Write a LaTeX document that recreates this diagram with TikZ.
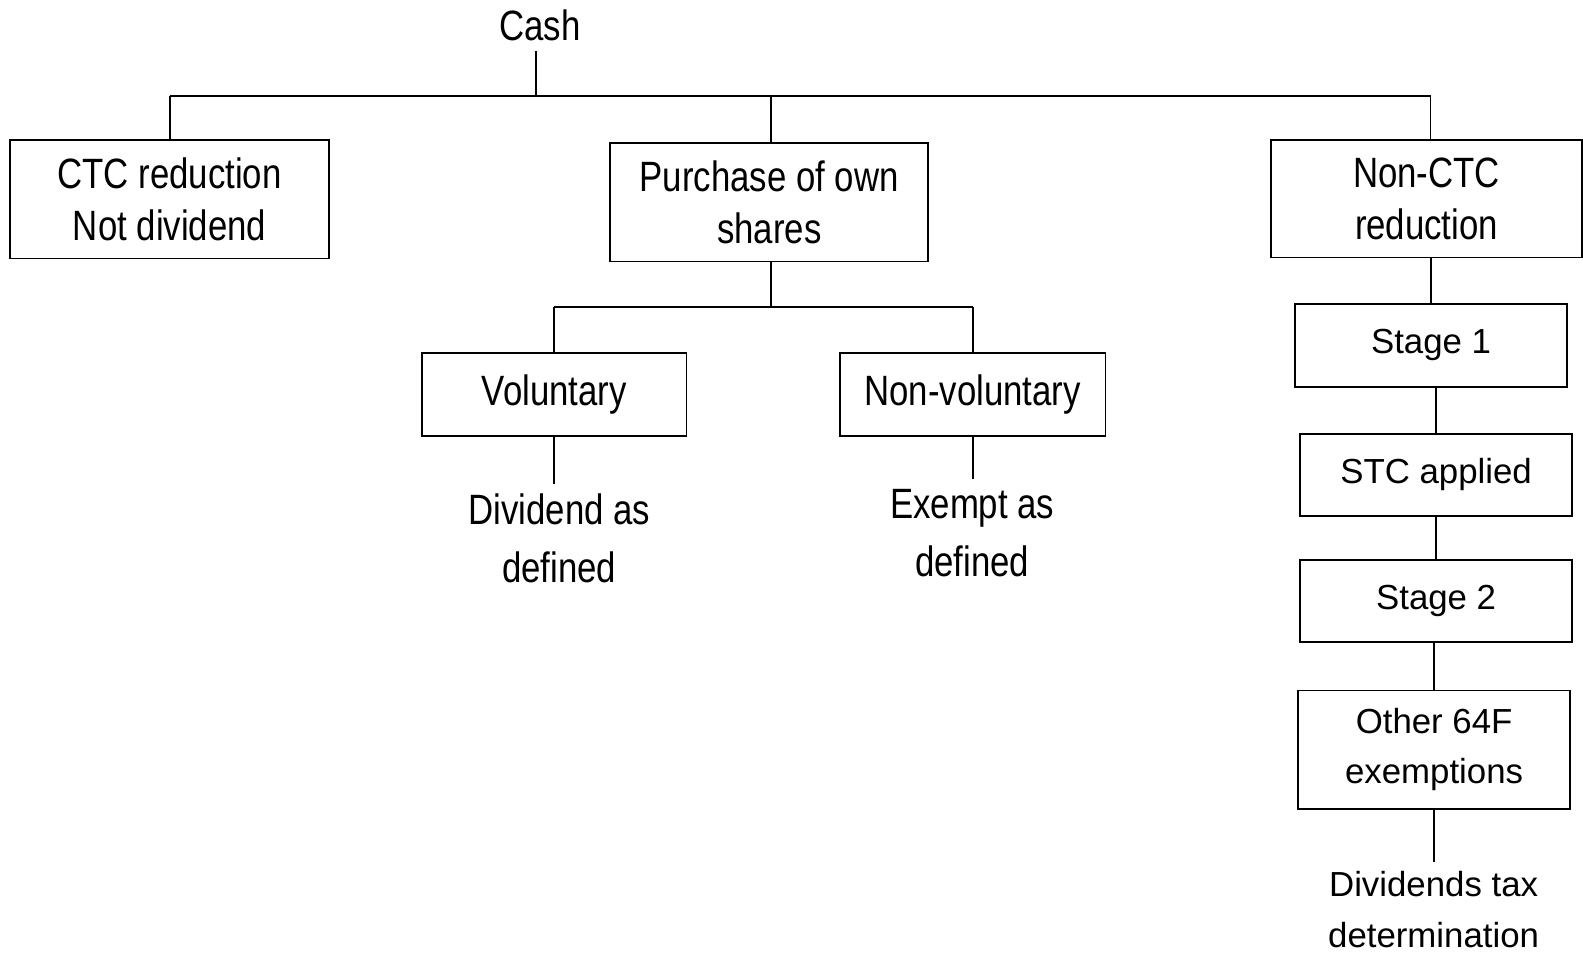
\documentclass[tikz,border=0pt]{standalone}
\usepackage{fontspec}
\setmainfont{Liberation Sans}
\newfontfamily\narrowfont[FakeStretch=0.82]{Liberation Sans}
\newcommand\pix{0.5047pt}
\begin{document}
\begin{tikzpicture}[x=0.5047pt,y=-0.5047pt,
  box/.style 2 args={draw,line width=0.9pt,align=center,inner sep=0pt,
    minimum width=#1*\pix,minimum height=#2*\pix},
  nfont/.style={font=\narrowfont\fontsize{21.2}{25.7}\selectfont},
  afont/.style={font=\fontsize{17.4}{25.2}\selectfont},
  label/.style={align=center,inner sep=0pt,outer sep=5pt},
  link/.style={line width=0.9pt},
  bar/.style={line width=1.4pt}]
\useasboundingbox (0,0) rectangle (1568,943);

% top level
\node[label,nfont] (cash) at (535,25) {Cash};
\node[box={316}{117},nfont] (ctc) at (168,197.5) {CTC reduction\\Not dividend};
\node[box={315}{117},nfont] (purchase) at (762,200.5) {Purchase of own\\shares};
\node[box={308}{116},nfont] (nonctc) at (1413,197) {Non-CTC\\reduction};

% purchase of own shares
\node[box={262}{82},nfont] (vol) at (549,391) {Voluntary};
\node[box={263}{82},nfont] (nonvol) at (963.5,391) {Non-voluntary};
\node[label,nfont,font=\narrowfont\fontsize{21.2}{28.8}\selectfont] (divas) at (554,533) {Dividend as\\defined};
\node[label,nfont,font=\narrowfont\fontsize{21.2}{28.8}\selectfont] (exas) at (963,528) {Exempt as\\defined};

% non-CTC reduction
\node[box={269}{82},afont] (stage1) at (1417.5,342) {Stage 1};
\node[box={269}{81},afont] (stc) at (1422.5,470.5) {STC applied};
\node[box={269}{81},afont] (stage2) at (1422.5,595.5) {Stage 2};
\node[box={269}{117},afont] (other) at (1420.5,742.5) {Other 64F\\exemptions};
\node[label,afont] (divtax) at (1420,901) {Dividends tax\\determination};

% connectors
\coordinate (top) at (531,95);
\coordinate (r) at (1417,95);
\draw[link] (cash.south -| top) -- (top);
\draw[bar] (top -| ctc) -- (r);
\draw[link] (top -| ctc) -- (ctc);
\draw[link] (top -| 764,0) -- (purchase.north -| 764,0);
\draw[link] (r) -- (r |- nonctc.north);

\coordinate (mid) at (764,304);
\draw[link] (purchase.south -| mid) -- (mid);
\draw[bar] (mid -| vol) -- (mid -| nonvol);
\draw[link] (mid -| vol) -- (vol);
\draw[link] (mid -| nonvol) -- (nonvol);
\draw[link] (vol.south) -- (vol.south |- divas.north);
\draw[link] (nonvol.south) -- (nonvol.south |- exas.north);

\foreach \a/\b in {nonctc/stage1,stage1/stc,stc/stage2,stage2/other}
  \draw[link] (\b.north) -- (\b.north |- \a.south);
\draw[link] (other.south) -- (other.south |- divtax.north);
\end{tikzpicture}
\end{document}
